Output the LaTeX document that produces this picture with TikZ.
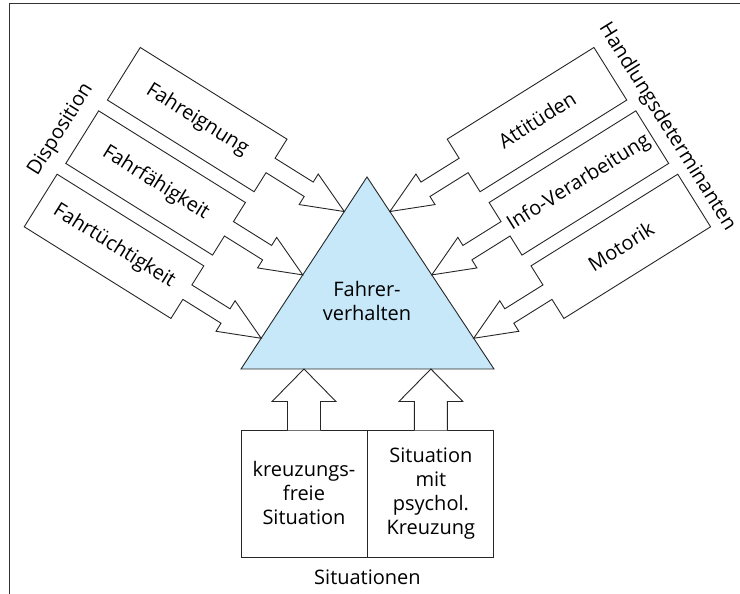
\documentclass[tikz,border=0pt]{standalone}
\usepackage{fontspec}
\setmainfont{Open Sans}
\usepackage{tikz}
\usetikzlibrary{calc,
                positioning}
\definecolor{triblue}{RGB}{198,232,248}
\tikzstyle{frameline} = [line width=1pt, draw=black!80]
\tikzstyle{blockarrow} = [line width=0.9pt, draw=black!85, fill=white, line join=miter]
\tikzstyle{boxtext} = [font=\fontsize{20}{24}\selectfont, align=center, inner sep=0pt]
\tikzstyle{sitbox} = [rectangle, draw=black!85, line width=0.9pt, minimum width=126pt, minimum height=127pt, font=\fontsize{20}{24}\selectfont, align=center, inner sep=0pt]

\begin{document}
\begin{tikzpicture}[x=1pt, y=1pt]
\useasboundingbox (0,0) rectangle (740,594);
\draw [frameline] (740,590) -- (9,590) -- (9,0);

% Dreieck
\coordinate (apex) at (367,417);
\coordinate (bl) at (241,225);
\coordinate (br) at (494,225);
\filldraw [line width=0.9pt, draw=black!85, fill=triblue, line join=miter] (apex) -- (bl) -- (br) -- cycle;
\node (fv) [boxtext] at (367,293) {Fahrer-\\verhalten};

% Disposition (links)
\foreach \t/\txt/\nm in {0.18/Fahreignung/eig, 0.51/Fahrfähigkeit/fae, 0.84/Fahrtüchtigkeit/tue} {
  \coordinate (tip-\nm) at ($(apex)!\t!(bl)$);
  \begin{scope}[shift={(tip-\nm)}, rotate=-32]
    \draw [blockarrow] (0,0) -- (-42,18) -- (-42,8.5) -- (-87,8.5) -- (-87,31) -- (-260,31)
      -- (-260,-31) -- (-87,-31) -- (-87,-8.5) -- (-42,-8.5) -- (-42,-18) -- cycle;
    \node (\nm) [boxtext, rotate=-32] at (-173.5,0) {\txt};
  \end{scope}
}
\node (disp) [boxtext, rotate=58] at (61,464) {Disposition};

% Handlungsdeterminanten (rechts)
\foreach \t/\txt/\nm in {0.18/Attitüden/att, 0.51/Info-Verarbeitung/inf, 0.84/Motorik/mot} {
  \coordinate (tip-\nm) at ($(apex)!\t!(br)$);
  \begin{scope}[shift={(tip-\nm)}, rotate=32]
    \draw [blockarrow] (0,0) -- (42,18) -- (42,8.5) -- (87,8.5) -- (87,31) -- (260,31)
      -- (260,-31) -- (87,-31) -- (87,-8.5) -- (42,-8.5) -- (42,-18) -- cycle;
    \node (\nm) [boxtext, rotate=32] at (173.5,0) {\txt};
  \end{scope}
}
\node (hdet) [boxtext, rotate=-58] at (667,467) {Handlungsdeterminanten};

% Situationen (unten)
\node (kf) [sitbox] at (304,100.5) {kreuzungs-\\freie\\Situation};
\node (ps) [sitbox, right=0pt of kf] {Situation\\mit\\psychol.\\Kreuzung};
\draw [line width=1.6pt, draw=black!85] (kf.north east) -- (kf.south east);
\node (sit) [boxtext, below=12pt of kf.south east] {Situationen};
\path [blockarrow] ($(kf.north)+(-16.5,-0.9)$) -- ++(0,28.9) -- ++(-15.5,0) -- (kf.north |- bl)
  -- ($(kf.north)+(32,28)$) -- ++(-15.5,0) -- ++(0,-28.9);
\path [blockarrow] ($(ps.north)+(-16.5,-0.9)$) -- ++(0,28.9) -- ++(-15.5,0) -- (ps.north |- bl)
  -- ($(ps.north)+(32,28)$) -- ++(-15.5,0) -- ++(0,-28.9);

\end{tikzpicture}
\end{document}
